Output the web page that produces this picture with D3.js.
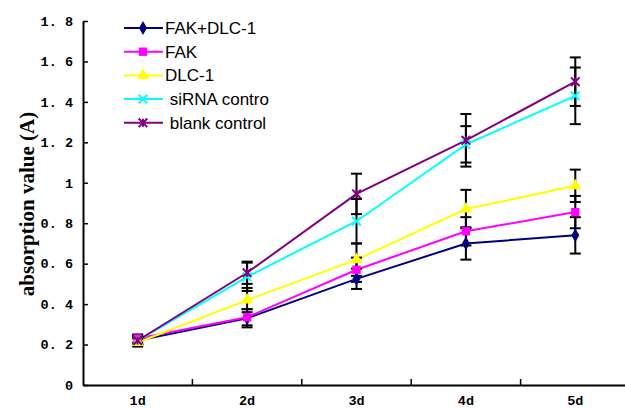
<!DOCTYPE html>
<html lang="en">
<head>
<meta charset="utf-8">
<script src="https://cdnjs.cloudflare.com/ajax/libs/d3/7.8.5/d3.min.js"></script>
<style>
  body { margin: 0; background: #fff; }
  svg { display: block; }
  .tick text { font-family: 'Liberation Mono', monospace; font-weight: bold; font-size: 13.5px; fill: #000; }
  .legend text { font-family: 'Liberation Sans', Arial, sans-serif; font-size: 17px; fill: #000; }
  .ytitle { font-family: 'Liberation Serif', serif; font-weight: bold; font-size: 21px; }
</style>
</head>
<body>
<div id="chart"></div>
<script>
// data
var days = ['1d', '2d', '3d', '4d', '5d'];
var yTicks = [0, 0.2, 0.4, 0.6, 0.8, 1, 1.2, 1.4, 1.6, 1.8];
var seriesNames = ['FAK+DLC-1', 'FAK', 'DLC-1', ' siRNA contro', ' blank control'];

var fakDlc = [0.22, 0.33, 0.525, 0.70, 0.74];
var fakDlcErr = [0.02, 0.045, 0.05, 0.08, 0.09];
var fak = [0.23, 0.335, 0.57, 0.76, 0.855];
var fakErr = [0.02, 0.04, 0.06, 0.07, 0.08];
var dlc = [0.21, 0.42, 0.62, 0.87, 0.985];
var dlcErr = [0.02, 0.06, 0.08, 0.095, 0.08];
var sirna = [0.22, 0.535, 0.81, 1.19, 1.43];
var sirnaErr = [0.02, 0.07, 0.11, 0.09, 0.14];
var blank = [0.22, 0.555, 0.945, 1.21, 1.50];
var blankErr = [0.02, 0.055, 0.10, 0.13, 0.12];

var colors = ['#000080', '#ff00ff', '#ffff00', '#00ffff', '#800080'];
var symbols = ['diamond', 'square', 'triangle', 'x', 'star'];

var series = [
  { name: seriesNames[0], values: fakDlc, err: fakDlcErr },
  { name: seriesNames[1], values: fak, err: fakErr },
  { name: seriesNames[2], values: dlc, err: dlcErr },
  { name: seriesNames[3], values: sirna, err: sirnaErr },
  { name: seriesNames[4], values: blank, err: blankErr }
];

var width = 625, height = 408;
var plotLeft = 83, plotRight = 630, plotTop = 21, plotBottom = 385;

var svg = d3.select('#chart').append('svg')
  .attr('width', width)
  .attr('height', height);

var x = d3.scaleBand().domain(days).range([plotLeft, plotRight]).padding(0);
var y = d3.scaleLinear().domain([0, 1.8]).range([plotBottom, plotTop]);
var cx = function(d) { return x(d) + x.bandwidth() / 2; };

// axes, ticks pointing inward
var yAxis = d3.axisLeft(y).tickValues(yTicks).tickSizeInner(-5).tickSizeOuter(0)
  .tickPadding(10)
  .tickFormat(function(d) { return d === 0 || d === 1 ? String(d) : d3.format('.1f')(d).replace('.', '. '); });
var gy = svg.append('g').attr('transform', 'translate(' + plotLeft + ',0)').call(yAxis);

var xAxis = d3.axisBottom(x).tickSize(0).tickPadding(10);
var gx = svg.append('g').attr('transform', 'translate(0,' + plotBottom + ')').call(xAxis);

// category boundary ticks
svg.append('g').selectAll('line').data(days.slice(1)).enter().append('line')
  .attr('x1', function(d) { return x(d); })
  .attr('x2', function(d) { return x(d); })
  .attr('y1', plotBottom).attr('y2', plotBottom - 6)
  .attr('stroke', '#000').attr('stroke-width', 1.5);

[gx, gy].forEach(function(g) {
  g.select('.domain').attr('stroke', '#000').attr('stroke-width', 2);
  g.selectAll('.tick line').attr('stroke', '#000').attr('stroke-width', 1.5);
});

svg.append('text')
  .attr('class', 'ytitle')
  .attr('transform', 'translate(34,204) rotate(-90)')
  .attr('text-anchor', 'middle')
  .text('absorption value (A)');

// lines
var line = d3.line()
  .x(function(d, i) { return cx(days[i]); })
  .y(function(d) { return y(d); });

series.forEach(function(s, k) {
  svg.append('path')
    .datum(s.values)
    .attr('fill', 'none')
    .attr('stroke', colors[k])
    .attr('stroke-width', 2)
    .attr('d', line);
});

// error bars
var capW = 5.5;
series.forEach(function(s) {
  var g = svg.append('g').attr('stroke', '#000').attr('stroke-width', 2);
  s.values.forEach(function(v, i) {
    var px = cx(days[i]);
    var hi = y(v + s.err[i]), lo = y(v - s.err[i]);
    g.append('line').attr('x1', px).attr('x2', px).attr('y1', hi).attr('y2', lo);
    g.append('line').attr('x1', px - capW).attr('x2', px + capW).attr('y1', hi).attr('y2', hi);
    g.append('line').attr('x1', px - capW).attr('x2', px + capW).attr('y1', lo).attr('y2', lo);
  });
});

// markers
function drawMarker(g, k, px, py) {
  var c = colors[k];
  var t = 'translate(' + px + ',' + py + ')';
  if (symbols[k] === 'diamond') {
    g.append('path').attr('d', d3.symbol(d3.symbolDiamond, 55)()).attr('transform', t).attr('fill', c);
  } else if (symbols[k] === 'square') {
    g.append('path').attr('d', d3.symbol(d3.symbolSquare, 70)()).attr('transform', t).attr('fill', c);
  } else if (symbols[k] === 'triangle') {
    g.append('path').attr('d', d3.symbol(d3.symbolTriangle, 65)()).attr('transform', t).attr('fill', c);
  } else if (symbols[k] === 'x') {
    g.append('path').attr('d', d3.symbol(d3.symbolTimes, 50)()).attr('transform', t)
      .attr('fill', 'none').attr('stroke', c).attr('stroke-width', 2);
  } else {
    g.append('path').attr('d', d3.symbol(d3.symbolTimes, 50)()).attr('transform', t)
      .attr('fill', 'none').attr('stroke', c).attr('stroke-width', 2);
    g.append('line').attr('x1', px).attr('x2', px).attr('y1', py - 4).attr('y2', py + 4)
      .attr('stroke', c).attr('stroke-width', 2);
  }
}

series.forEach(function(s, k) {
  var g = svg.append('g');
  s.values.forEach(function(v, i) { drawMarker(g, k, cx(days[i]), y(v)); });
});

// legend
var legend = svg.append('g').attr('class', 'legend');
series.forEach(function(s, k) {
  var ly = 28 + k * 23.7;
  legend.append('line').attr('x1', 124).attr('x2', 163).attr('y1', ly).attr('y2', ly)
    .attr('stroke', colors[k]).attr('stroke-width', 2);
  drawMarker(legend, k, 143, ly);
  legend.append('text').attr('x', 165).attr('y', ly + 6).attr('xml:space', 'preserve').text(s.name);
});
</script>
</body>
</html>
